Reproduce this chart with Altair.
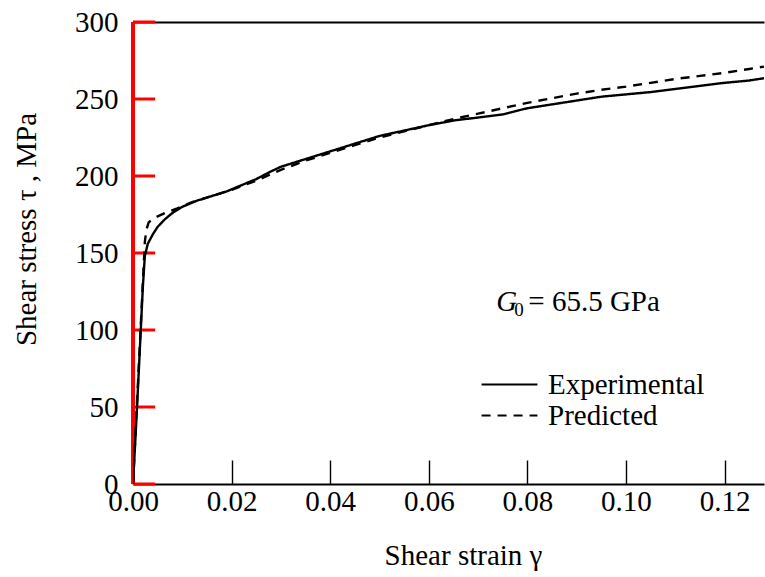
import altair as alt
import pandas as pd

# ---- data ----
gamma_exp = [0.0, 0.0005, 0.0010, 0.0015, 0.0020, 0.0024, 0.0030, 0.0040, 0.0050, 0.0065,
             0.0080, 0.0100, 0.0130, 0.0160, 0.0190, 0.0220, 0.0250, 0.0280, 0.0300, 0.0330,
             0.0360, 0.0400, 0.0450, 0.0500, 0.0550, 0.0600, 0.0650, 0.0700, 0.0750, 0.0800,
             0.0850, 0.0900, 0.0950, 0.1000, 0.1050, 0.1100, 0.1150, 0.1200, 0.1250, 0.1280]
tau_exp = [0, 30, 62, 95, 128, 148, 156, 162, 167, 172,
           176, 180, 184, 187, 190, 194, 198, 203, 206, 209,
           212, 216, 221, 226, 229.5, 233, 236, 238, 240, 244,
           246.5, 249, 251.5, 253, 254.5, 256.5, 258.5, 260.5, 262, 263.5]

gamma_pred = [0.0, 0.0010, 0.0020, 0.0024, 0.0027, 0.0032, 0.0045, 0.0065, 0.0090, 0.0120,
              0.0160, 0.0200, 0.0250, 0.0300, 0.0350, 0.0400, 0.0450, 0.0500, 0.0550, 0.0600,
              0.0650, 0.0700, 0.0750, 0.0800, 0.0850, 0.0900, 0.0950, 0.1000, 0.1050, 0.1100,
              0.1150, 0.1200, 0.1250, 0.1280]
tau_pred = [0, 65, 131, 157, 165, 170, 173, 176, 179, 183,
            187, 191, 197, 204, 210, 215, 220, 225, 229, 233,
            237, 240.5, 244, 247.5, 250.5, 253.5, 256, 258, 260.5, 263,
            265, 267, 269.5, 271]

series_names = ["Experimental", "Predicted"]
x_ticks = [0.00, 0.02, 0.04, 0.06, 0.08, 0.10, 0.12]
y_ticks = [0, 50, 100, 150, 200, 250, 300]
x_domain = [0, 0.128]
y_domain = [0, 300]

ann_gamma = [0.0737]
ann_tau = [118]

FONT = "Liberation Serif"
FS = 29
PLOT_W = 631
PLOT_H = 462
Y_TICK_LEN = 0.0045  # inward tick length of the left frame, in strain units (~22 px)

df = pd.concat([
    pd.DataFrame({"gamma": gamma_exp, "tau": tau_exp, "series": series_names[0]}),
    pd.DataFrame({"gamma": gamma_pred, "tau": tau_pred, "series": series_names[1]}),
], ignore_index=True)

ann = pd.DataFrame({"gamma": ann_gamma, "tau": ann_tau})
left_frame = pd.DataFrame({"gamma": [x_domain[0]], "tau": [y_domain[0]], "tau2": [y_domain[1]]})
y_tick_df = pd.DataFrame({"tau": y_ticks, "gamma": [x_domain[0]] * len(y_ticks),
                          "gamma2": [x_domain[0] + Y_TICK_LEN] * len(y_ticks)})

xscale = alt.Scale(domain=x_domain, nice=False, zero=False)
yscale = alt.Scale(domain=y_domain, nice=False)

x_axis = alt.Axis(values=x_ticks, format=".2f", title="Shear strain γ",
                  domain=True, ticks=True, labelFlush=False,
                  tickSize={"expr": "-24"}, labelPadding=27,
                  titleX=330, titleY=71, titleBaseline="middle")
y_axis = alt.Axis(values=y_ticks, format="d", title="Shear stress τ , MPa",
                  domain=True, ticks=False, labelFlush=False, labelPadding=15,
                  titleX=-107, titleY=207, titleBaseline="middle")

X = alt.X("gamma:Q", scale=xscale, axis=x_axis)
Y = alt.Y("tau:Q", scale=yscale, axis=y_axis)

lines = alt.Chart(df).mark_line(strokeWidth=2.4, color="black", clip=True).encode(
    x=X, y=Y,
    strokeDash=alt.StrokeDash(
        "series:N",
        scale=alt.Scale(domain=series_names, range=[[1, 0], [9, 7]]),
        legend=alt.Legend(title=None, orient="none", legendX=361, legendY=347,
                          symbolType="M-2,0H2", symbolSize=780, symbolStrokeWidth=2.2,
                          symbolStrokeColor="black", symbolFillColor="black",
                          labelFont=FONT, labelFontSize=FS,
                          labelColor="black", rowPadding=0, labelOffset=23),
    ),
)

frame_left = alt.Chart(left_frame).mark_rule(color="red", strokeWidth=4).encode(
    x=X, y=Y, y2=alt.Y2("tau2:Q"))
frame_ticks = alt.Chart(y_tick_df).mark_rule(color="red", strokeWidth=3).encode(
    x=X, x2=alt.X2("gamma2:Q"), y=Y)

g_text = alt.Chart(ann).mark_text(text="G", font=FONT, fontSize=FS, fontStyle="italic",
                                  align="left", baseline="middle", color="black").encode(x=X, y=Y)
sub_text = alt.Chart(ann).mark_text(text="0", font=FONT, fontSize=19, dx=18, dy=8,
                                    align="left", baseline="middle", color="black").encode(x=X, y=Y)
rest_text = alt.Chart(ann).mark_text(text="= 65.5 GPa", font=FONT, fontSize=FS, dx=32,
                                     align="left", baseline="middle", color="black").encode(x=X, y=Y)

inner = alt.layer(frame_left, frame_ticks, lines, g_text, sub_text, rest_text)

# top frame line
frame_top = alt.Chart(df).mark_line(opacity=0).encode(
    x=alt.X("gamma:Q", scale=xscale,
            axis=alt.Axis(orient="top", labels=False, ticks=False, title=None, domain=True)),
    y=alt.Y("tau:Q", scale=yscale, axis=None),
)

chart = alt.layer(inner, frame_top).resolve_axis(
    x="independent", y="independent"
).properties(
    width=PLOT_W, height=PLOT_H,
    padding={"left": 133, "top": 22, "right": 1, "bottom": 93},
    autosize=alt.AutoSizeParams(type="none"),
    background="white",
).configure_axis(
    labelFont=FONT, titleFont=FONT, labelFontSize=FS, titleFontSize=FS,
    labelColor="black", titleColor="black", domainColor="black", tickColor="black",
    domainWidth=1.8, tickWidth=1.4, grid=False, titleFontWeight="normal",
).configure_view(stroke=None)

chart.save("out.html", embed_options={"renderer": "svg", "actions": False})
